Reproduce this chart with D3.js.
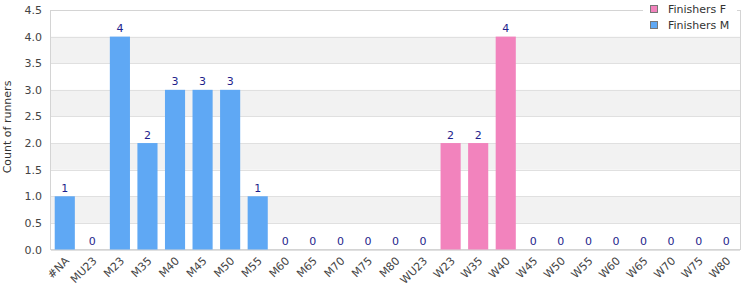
<!DOCTYPE html>
<html><head><meta charset="utf-8">
<script src="https://cdn.jsdelivr.net/npm/d3@7"></script>
<style>body{margin:0;background:#fff;}svg{display:block;font-family:"DejaVu Sans",sans-serif;}</style>
</head><body><svg id="c" width="750" height="300"></svg>
<script>
const categories = ["#NA","MU23","M23","M35","M40","M45","M50","M55","M60","M65","M70","M75","M80","WU23","W23","W35","W40","W45","W50","W55","W60","W65","W70","W75","W80"];
const values = [1,0,4,2,3,3,3,1,0,0,0,0,0,0,2,2,4,0,0,0,0,0,0,0,0];
const series = ["M","M","M","M","M","M","M","M","M","M","M","M","M","F","F","F","F","F","F","F","F","F","F","F","F"];
const yTicks = [0,0.5,1,1.5,2,2.5,3,3.5,4,4.5];
const legendLabels = ["Finishers F","Finishers M"];
const legendKeys = ["F","M"];
const colors = {F:"#f283bd", M:"#5fa8f4"};

const svg = d3.select("#c");
const L=51, R=740, T=10, B=249.5;
const x = d3.scaleBand().domain(categories).range([L,R]).paddingInner(0.27).paddingOuter(0.135);
const y = d3.scaleLinear().domain([0,4.5]).range([B,T]);

// alternating bands
const bandPairs = [[0.5,1],[1.5,2],[2.5,3],[3.5,4]];
svg.append("g").selectAll("rect").data(bandPairs).join("rect")
  .attr("x",L).attr("width",R-L)
  .attr("y",d=>y(d[1])).attr("height",d=>y(d[0])-y(d[1]))
  .attr("fill","#f2f2f2");
// grid lines
svg.append("g").selectAll("line").data(yTicks).join("line")
  .attr("x1",L).attr("x2",R).attr("y1",d=>Math.round(y(d))+0.5).attr("y2",d=>Math.round(y(d))+0.5)
  .attr("stroke","#e0e0e0");
// frame
svg.append("rect").attr("x",L-0.5).attr("y",T+0.5).attr("width",R-L+1).attr("height",B-T-0.5)
  .attr("fill","none").attr("stroke","#d4d4d4");

// y axis
const ya = svg.append("g").attr("transform",`translate(${L},0)`)
  .call(d3.axisLeft(y).tickValues(yTicks).tickFormat(d3.format(".1f")).tickSize(0).tickPadding(9));
ya.select(".domain").remove();
ya.selectAll("text").attr("fill","#444").style("font-size","11px").style("font-family","DejaVu Sans");

// x axis
const xa = svg.append("g").attr("transform",`translate(0,${B})`)
  .call(d3.axisBottom(x).tickSize(0).tickPadding(0));
xa.select(".domain").remove();
xa.selectAll("text").attr("fill","#444").style("font-size","11px").style("font-family","DejaVu Sans")
  .attr("text-anchor","end").attr("dy","0").attr("dx","0")
  .attr("transform","translate(5,12) rotate(-45)");

// bars
svg.append("g").selectAll("rect").data(categories).join("rect")
  .attr("x",d=>x(d)).attr("width",x.bandwidth())
  .attr("y",(d,i)=>y(values[i])).attr("height",(d,i)=>y(0)-y(values[i]))
  .attr("fill",(d,i)=>colors[series[i]]);
// value labels
svg.append("g").selectAll("text").data(categories).join("text")
  .attr("x",d=>x(d)+x.bandwidth()/2).attr("y",(d,i)=>y(values[i])-4.5)
  .attr("text-anchor","middle").attr("fill","#1f1f8c").style("font-size","11px")
  .text((d,i)=>values[i]);

// y title
svg.append("text").attr("transform","translate(11,127) rotate(-90)").attr("text-anchor","middle")
  .attr("fill","#333").style("font-size","11px").text("Count of runners");

// legend
const lg = svg.append("g");
lg.append("rect").attr("x",643).attr("y",0).attr("width",94).attr("height",32).attr("fill","#fff");
const li = lg.selectAll("g").data(legendKeys).join("g")
  .attr("transform",(d,i)=>`translate(650,${5+i*16})`);
li.append("rect").attr("x",0.5).attr("y",0.5).attr("width",7).attr("height",7)
  .attr("fill",d=>colors[d]).attr("stroke","#777");
li.append("text").attr("x",18).attr("y",8).attr("fill","#333").style("font-size","11px")
  .text((d,i)=>legendLabels[i]);
</script></body></html>
